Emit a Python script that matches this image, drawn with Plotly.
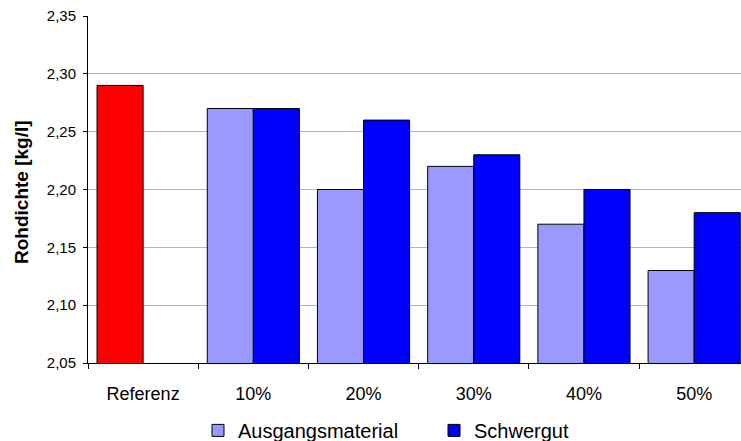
import plotly.graph_objects as go

categories = ["Referenz", "10%", "20%", "30%", "40%", "50%"]
referenz = [2.29, None, None, None, None, None]
ausgangsmaterial = [None, 2.27, 2.20, 2.22, 2.17, 2.13]
schwergut = [None, 2.27, 2.26, 2.23, 2.20, 2.18]
y_ticks = [2.05, 2.10, 2.15, 2.20, 2.25, 2.30, 2.35]
y_title = "Rohdichte [kg/l]"

W = 0.418
line = dict(color="#000000", width=1)

fig = go.Figure()
fig.add_trace(go.Bar(x=categories, y=referenz, name="Referenz", showlegend=False,
                     marker=dict(color="#FF0000", line=line), offset=-W, width=W))
fig.add_trace(go.Bar(x=categories, y=ausgangsmaterial, name="Ausgangsmaterial",
                     marker=dict(color="#9999FF", line=line), offset=-W, width=W))
fig.add_trace(go.Bar(x=categories, y=schwergut, name="Schwergut",
                     marker=dict(color="#0000FF", line=line), offset=0, width=W))

fig.add_annotation(text="<b>" + y_title + "</b>", xref="paper", yref="paper",
                   x=(21 - 88) / 653, y=(363 - 192) / 347, xanchor="center", yanchor="middle",
                   textangle=-90, showarrow=False, font=dict(size=19))

fig.update_layout(
    width=741, height=441,
    margin=dict(l=88, r=0, t=16, b=78, autoexpand=False),
    barmode="overlay",
    separators=",.",
    plot_bgcolor="white", paper_bgcolor="white",
    font=dict(family="Liberation Sans, Arial, sans-serif", size=15, color="#000000"),
    showlegend=True,
    legend=dict(orientation="h", xref="container", x=198 / 741, xanchor="left",
                yref="paper", y=-0.138, yanchor="top",
                font=dict(size=20), entrywidth=191, entrywidthmode="pixels",
                tracegroupgap=0),
    xaxis=dict(range=[-0.5, 5.425], showline=True, linecolor="#000000", linewidth=1,
               ticks="outside", tickson="boundaries", ticklen=5, tickcolor="#000000",
               tickfont=dict(size=18), ticklabelstandoff=14,
               showgrid=False),
    yaxis=dict(range=[2.05, 2.35], tickvals=y_ticks, tickformat=".2f",
               showline=True, linecolor="#000000", linewidth=1,
               ticks="outside", ticklen=4, tickcolor="#000000",
               tickfont=dict(size=15), ticklabelstandoff=4,
               showgrid=True, gridcolor="#B4B4B4", gridwidth=1,
               zeroline=False),
)

fig.write_html("out.html", config={"displayModeBar": False},
               post_script="document.body.style.margin='0px';")
